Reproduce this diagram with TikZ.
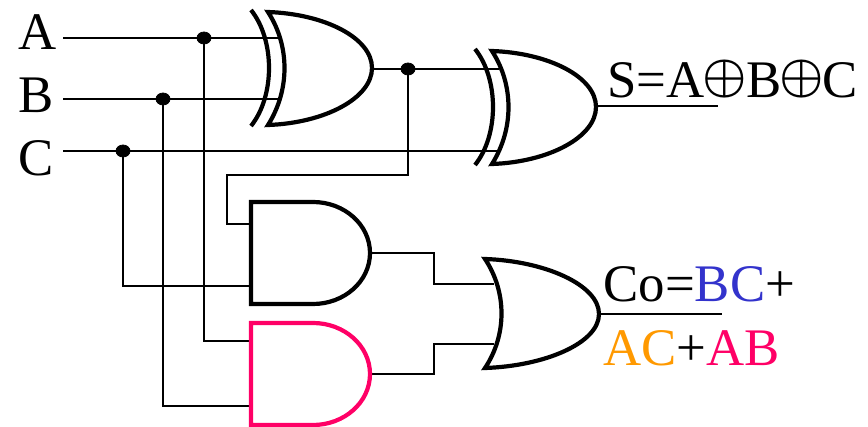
\documentclass[tikz,border=0pt]{standalone}
\usepackage{fontspec}
\setmainfont{Liberation Serif}
\definecolor{bcblue}{HTML}{3333CC}
\definecolor{acorange}{HTML}{FF9900}
\definecolor{abpink}{HTML}{FF0066}
\newcommand{\xorsym}{\kern-1pt{\fontsize{26}{26}\selectfont\boldmath\raisebox{3pt}{$\oplus$}}\kern-.5pt}
\tikzset{
    wire/.style={line width=.8pt},
    gate/.style={line width=2.1pt},
    label/.style={anchor=base west,inner sep=0pt,font=\fontsize{26.4}{26.4}\selectfont}
}
\begin{document}
\begin{tikzpicture}[x=.5pt,y=-.5pt]
        \useasboundingbox (0,0) rectangle (868,427);

        % inputs
        \node[label] (A) at (18,50) {A};
        \node[label] (B) at (18,113) {B};
        \node[label] (C) at (18,176) {C};
        \node[label] (S) at (607,98) {S=A\xorsym B\xorsym C};
        \node[label] (Co) at (603,302) {Co=\textcolor{bcblue}{BC}+};
        \node[label] (AB) at (603,365) {\textcolor{acorange}{AC}+\textcolor{abpink}{AB}};

        \coordinate (ina) at (63,38);
        \coordinate (inb) at (63,99);
        \coordinate (inc) at (63,151);
        \coordinate (xa) at (279,38);
        \coordinate (xb) at (279,99);
        \coordinate (xc) at (499,151);
        \coordinate (xd) at (499,69);
        \coordinate (xout) at (372,69);
        \coordinate (sout) at (596,106);
        \coordinate (send) at (718,106);
        \coordinate (dota) at (204,38);
        \coordinate (dotb) at (163,99);
        \coordinate (dotc) at (123,151);
        \coordinate (dotx) at (408,69);
        \coordinate (bend) at (227,175);
        \coordinate (and1a) at (251,224);
        \coordinate (and1b) at (253,286);
        \coordinate (and2a) at (251,341);
        \coordinate (and2b) at (251,406);
        \coordinate (and1out) at (370,253);
        \coordinate (and2out) at (370,374);
        \coordinate (mid1) at (434,284);
        \coordinate (mid2) at (434,344);
        \coordinate (or1) at (494,284);
        \coordinate (or2) at (494,344);
        \coordinate (orout) at (599,314);
        \coordinate (coend) at (722,314);

        % wires
        \draw[wire] (ina) -- (xa);
        \draw[wire] (inb) -- (xb);
        \draw[wire] (inc) -- (xc);
        \draw[wire] (xout) -- (xd);
        \draw[wire] (sout) -- (send);
        \draw[wire] (orout) -- (coend);
        \draw[wire] (dotx) |- (bend) |- (and1a);
        \draw[wire] (dotc) |- (and1b);
        \draw[wire] (dota) |- (and2a);
        \draw[wire] (dotb) |- (and2b);
        \draw[wire] (and1out) -| (mid1) -- (or1);
        \draw[wire] (and2out) -| (mid2) -- (or2);
        \filldraw (dota) ellipse (7 and 6);
        \filldraw (dotb) ellipse (7 and 6);
        \filldraw (dotc) ellipse (7 and 6);
        \filldraw (dotx) ellipse (7 and 6);

        % gates
        \foreach \dx/\dy in {0/0,224/39}{
            \draw[gate,shift={(\dx*.5pt,-\dy*.5pt)}] (251,10) .. controls (275,40) and (275,96) .. (251,126);
            \draw[gate,shift={(\dx*.5pt,-\dy*.5pt)}] (268,12) .. controls (325,14) and (372,38) .. (372,68)
                .. controls (372,98) and (325,123) .. (268,125)
                .. controls (290,90) and (290,46) .. cycle;
        }
        \draw[gate] (251,202) -- (313,202) arc (-90:90:57 and 51) -- (251,304) -- cycle;
        \draw[gate,abpink] (251,323) -- (313,323) arc (-90:90:57 and 51) -- (251,425) -- cycle;
        \draw[gate] (485,259) .. controls (545,261) and (599,285) .. (599,314)
            .. controls (599,343) and (545,366) .. (485,368)
            .. controls (507,335) and (507,292) .. cycle;
    \end{tikzpicture}
\end{document}
